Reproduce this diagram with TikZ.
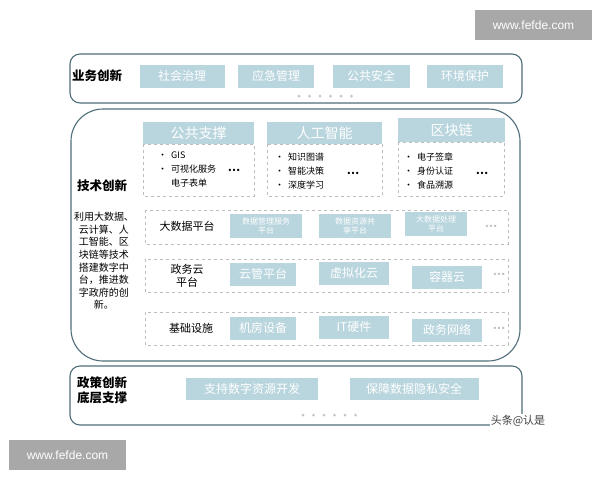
\documentclass[tikz,border=0pt]{standalone}
\usepackage{fontspec}
\setmainfont{Noto Sans CJK SC}
\newfontfamily\webfont{Liberation Sans}
\usetikzlibrary{positioning}

\definecolor{tilefill}{HTML}{B9D5DE}
\definecolor{framecol}{HTML}{4F6E79}
\definecolor{dashcol}{HTML}{BDBDBD}
\definecolor{markgray}{HTML}{A8A8A8}
\definecolor{dotgray}{HTML}{C4C4C4}

\begin{document}
\begin{tikzpicture}[x=1pt,y=-1pt]

% =========================
% Styles (ALL IN ONE BLOCK)
% =========================
\tikzset{
    frame/.style={draw=framecol, line width=1.1pt},
    tile/.style={fill=tilefill, text=white, inner sep=0pt, font=\fontsize{12}{12}\selectfont},
    smalltile/.style={tile, align=center, font=\fontsize{8}{9}\selectfont},
    header/.style={tile, font=\fontsize{14}{14}\selectfont},
    dashbox/.style={draw=dashcol, dashed, line width=0.6pt},
    layerlabel/.style={font=\bfseries\fontsize{12.5}{15}\selectfont, align=left},
    rowlabel/.style={font=\fontsize{11}{13}\selectfont, align=center},
    bullets/.style={font=\fontsize{9}{14}\selectfont, align=left, anchor=west, inner sep=0pt},
    more/.style={font=\bfseries\fontsize{11}{11}\selectfont, text=#1},
    more/.default=black,
    dotmark/.style={circle, fill=dotgray, inner sep=0pt, minimum size=3pt},
    webmark/.style={fill=markgray, text=white, font=\webfont\fontsize{12}{12}\selectfont,
        minimum width=117pt, minimum height=30pt, inner sep=0pt}
}

\useasboundingbox[fill=white] (0,0) rectangle (600,480);

% =========================
% 业务创新
% =========================
\draw[frame, rounded corners=10pt] (70,54) rectangle (522,103);
\node[layerlabel] (ywcx) at (97,76) {业务创新};
\node[tile, minimum width=85pt, minimum height=23pt] (shzl) at (182,76) {社会治理};
\node[tile, minimum width=76pt, minimum height=23pt] (yjgl) at (276,76) {应急管理};
\node[tile, minimum width=77pt, minimum height=23pt] (ggaq) at (371,76) {公共安全};
\node[tile, minimum width=76pt, minimum height=23pt] (hjbh) at (465,76) {环境保护};
\foreach \i in {0,...,5}
    \node[dotmark] (topdot\i) at (299+\i*10.5,96) {};

% =========================
% 技术创新
% =========================
\draw[frame, rounded corners=32pt] (71,109) rectangle (520,361);
\node[layerlabel] (jscx) at (102,186) {技术创新};
\node[font=\fontsize{10}{12.6}\selectfont, align=center] (jsdesc) at (104,261)
    {利用大数据、\\云计算、人\\工智能、区\\块链等技术\\搭建数字中\\台，推进数\\字政府的创\\新。};

% Public support / AI / blockchain
\node[header, minimum width=111pt, minimum height=22pt] (ggzc) at (198.5,133) {公共支撑};
\draw[dashbox] (ggzc.south west) rectangle (254,196);
\node[bullets] (ggzclist) at (158,169) {\textbullet\ \ GIS\\\textbullet\ \ 可视化服务\\\hphantom{\textbullet\ \ }电子表单};
\node[more] (ggzcmore) at (234,170) {…};

\node[header, minimum width=115pt, minimum height=22pt] (rgzn) at (324.5,133) {人工智能};
\draw[dashbox] (rgzn.south west) rectangle (382,196);
\node[bullets] (rgznlist) at (275,171) {\textbullet\ \ 知识图谱\\\textbullet\ \ 智能决策\\\textbullet\ \ 深度学习};
\node[more] (rgznmore) at (353,173) {…};

\node[header, minimum width=107pt, minimum height=24pt] (qkl) at (451.5,130) {区块链};
\draw[dashbox] (qkl.south west) rectangle (504,196);
\node[bullets] (qkllist) at (404,171) {\textbullet\ \ 电子签章\\\textbullet\ \ 身份认证\\\textbullet\ \ 食品溯源};
\node[more] (qklmore) at (482,173) {…};

% Big data platform
\draw[dashbox] (145,210) rectangle (508,244);
\node[rowlabel] (dsjpt) at (187,226) {大数据平台};
\node[smalltile, minimum width=72pt, minimum height=24pt] (sjgl) at (266,226) {数据管理服务\\平台};
\node[smalltile, minimum width=72pt, minimum height=24pt] (sjzy) at (355,226) {数据资源共\\享平台};
\node[smalltile, minimum width=62pt, minimum height=24pt] (dsjcl) at (436,224) {大数据处理\\平台};
\node[more=gray!50] (dsjmore) at (491,226) {…};

% Government cloud
\draw[dashbox] (145,259) rectangle (508,292);
\node[rowlabel] (zwy) at (187,276) {政务云\\平台};
\node[tile, minimum width=66pt, minimum height=23pt] (ygpt) at (263,274) {云管平台};
\node[tile, minimum width=70pt, minimum height=23pt] (xnhy) at (354,273) {虚拟化云};
\node[tile, minimum width=70pt, minimum height=23pt] (rqy) at (447,277) {容器云};
\node[more=gray!50] (zwymore) at (499,274) {…};

% Infrastructure
\draw[dashbox] (145,312) rectangle (508,345);
\node[rowlabel] (jcss) at (191,328) {基础设施};
\node[tile, minimum width=66pt, minimum height=23pt] (jfsb) at (263,328) {机房设备};
\node[tile, minimum width=70pt, minimum height=23pt] (ityj) at (354,327) {IT硬件};
\node[tile, minimum width=70pt, minimum height=23pt] (zwwl) at (447,330) {政务网络};
\node[more=gray!50] (jcssmore) at (499,328) {…};

% =========================
% 政策创新 底层支撑
% =========================
\draw[frame, rounded corners=10pt] (70,366) rectangle (522,425);
\node[layerlabel] (zccx) at (102,390) {政策创新\\底层支撑};
\node[tile, minimum width=132pt, minimum height=22pt] (zcsz) at (252,389) {支持数字资源开发};
\node[tile, minimum width=129pt, minimum height=22pt] (bzsj) at (414,389) {保障数据隐私安全};
\foreach \i in {0,...,5}
    \node[dotmark] (botdot\i) at (303+\i*10.5,415) {};

% =========================
% Watermarks
% =========================
\node[webmark] (marktop) at (533.5,25) {www.fefde.com};
\node[webmark] (markbot) at (67.5,455) {www.fefde.com};
\node[font=\fontsize{11}{11}\selectfont, text=black!75, fill=white, inner sep=1pt] (toutiao) at (518,421) {头条@认是};

\end{tikzpicture}
\end{document}
